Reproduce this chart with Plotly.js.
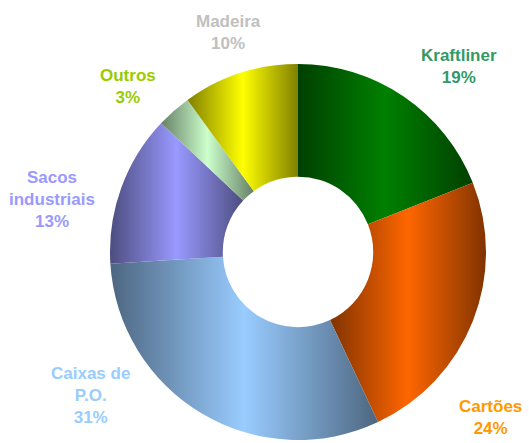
<!DOCTYPE html>
<html>
<head>
<meta charset="utf-8">
<script src="https://cdn.plot.ly/plotly-3.0.1.min.js"></script>
<style>
html,body{margin:0;padding:0;background:#fff;}
#chart{width:529px;height:443px;}
</style>
</head>
<body>
<div id="chart"></div>
<script>
// Data
const categories = ["Kraftliner", "Cartões", "Caixas de P.O.", "Sacos industriais", "Outros", "Madeira"];
const labelLines = ["Kraftliner", "Cartões", "Caixas de<br>P.O.", "Sacos<br>industriais", "Outros", "Madeira"];
const values = [19, 24, 31, 13, 3, 10];

// Styles
const sliceColors = ["#008000", "#FF6600", "#99CCFF", "#9999FF", "#CCFFCC", "#FFFF00"];
const labelColors = ["#339966", "#FF9900", "#99CCFF", "#9999FF", "#99CC00", "#C0C0C0"];
// label block centres in pixels (layout only)
const labelPos = [[459, 67], [490, 417], [90, 395], [52, 200], [128, 86], [228, 32]];

const W = 529, H = 443;
const total = values.reduce((a, b) => a + b, 0);

const trace = {
  type: "pie",
  labels: categories,
  values: values,
  sort: false,
  direction: "clockwise",
  rotation: 0,
  hole: 0.4,
  textinfo: "none",
  hoverinfo: "label+percent",
  marker: {colors: sliceColors, line: {width: 0}},
  domain: {x: [110 / W, 486 / W], y: [3 / H, 379 / H]},
  showlegend: false
};

const annotations = categories.map((c, i) => ({
  xref: "paper", yref: "paper",
  x: labelPos[i][0] / W, y: 1 - labelPos[i][1] / H,
  xanchor: "center", yanchor: "middle", align: "center",
  showarrow: false,
  text: labelLines[i] + "<br>" + Math.round(values[i] / total * 100) + "%",
  font: {family: "Liberation Sans, Arial, sans-serif", size: 17, color: labelColors[i], weight: "bold"}
}));

const layout = {
  width: W, height: H,
  margin: {l: 0, r: 0, t: 0, b: 0},
  paper_bgcolor: "#ffffff",
  plot_bgcolor: "#ffffff",
  annotations: annotations,
  showlegend: false
};

function shade(hex, f) {
  const n = parseInt(hex.slice(1), 16);
  const r = Math.round(((n >> 16) & 255) * f), g = Math.round(((n >> 8) & 255) * f), b = Math.round((n & 255) * f);
  return "rgb(" + r + "," + g + "," + b + ")";
}

Plotly.newPlot("chart", [trace], layout, {displayModeBar: false, staticPlot: true}).then(gd => {
  // Excel-like horizontal centre-out gradient on each slice
  const svg = gd.querySelector("svg.main-svg");
  const ns = "http://www.w3.org/2000/svg";
  let defs = svg.querySelector("defs");
  if (!defs) { defs = document.createElementNS(ns, "defs"); svg.insertBefore(defs, svg.firstChild); }
  sliceColors.forEach((c, i) => {
    const lg = document.createElementNS(ns, "linearGradient");
    lg.setAttribute("id", "sliceGrad" + i);
    lg.setAttribute("x1", "0"); lg.setAttribute("y1", "0");
    lg.setAttribute("x2", "1"); lg.setAttribute("y2", "0");
    [[0, shade(c, 0.5)], [0.5, c], [1, shade(c, 0.5)]].forEach(([o, col]) => {
      const s = document.createElementNS(ns, "stop");
      s.setAttribute("offset", o);
      s.setAttribute("stop-color", col);
      lg.appendChild(s);
    });
    defs.appendChild(lg);
  });
  const slices = gd.querySelectorAll("g.slice");
  slices.forEach((g, i) => {
    const p = g.querySelector("path.surface");
    if (p) p.style.fill = "url(#sliceGrad" + i + ")";
  });
});
</script>
</body>
</html>
